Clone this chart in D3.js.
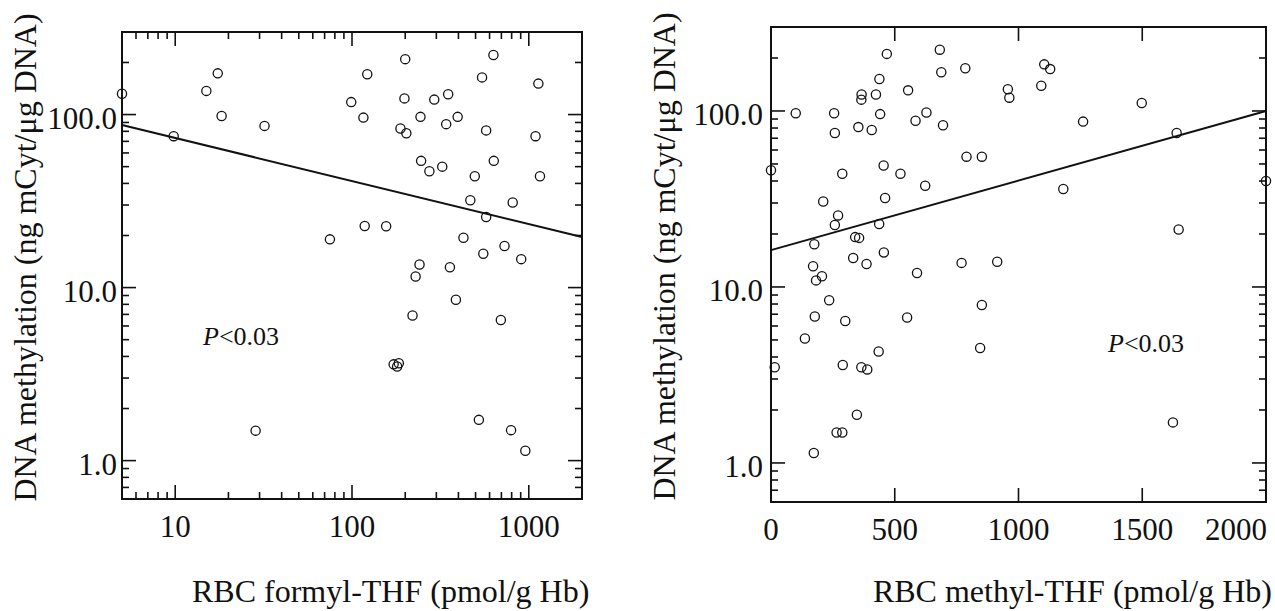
<!DOCTYPE html>
<html>
<head>
<meta charset="utf-8">
<script src="https://cdn.jsdelivr.net/npm/d3@7"></script>
<style>
  body { margin: 0; background: #fff; }
  svg text { font-family: "Liberation Serif", "Times New Roman", serif; fill: #111; }
</style>
</head>
<body>
<div id="chart"></div>
<script>
// left panel: RBC formyl-THF vs DNA methylation (log-log)
const formylX = [5, 9.8, 15, 17.4, 18.3, 32, 99, 122, 116, 200, 198, 188, 203, 244, 246, 274, 292, 350, 324, 341,
  396, 544, 631, 574, 634, 495, 467, 574, 811, 1133, 1092, 1157, 75, 118, 156, 427, 553, 729, 906, 241,
  229, 358, 387, 220, 695, 172, 184, 180, 28.5, 522, 794, 956];
const formylY = [132, 75, 137, 173, 98, 86, 118, 171, 96, 209, 124, 83, 78, 97, 54, 47, 122, 131, 50, 88,
  97, 164, 221, 81, 54, 44, 32, 25.6, 31, 151, 75, 44, 19, 22.7, 22.6, 19.4, 15.7, 17.4, 14.6, 13.6,
  11.6, 13.1, 8.5, 6.9, 6.5, 3.6, 3.65, 3.5, 1.49, 1.72, 1.5, 1.14];
const formylFitX = [5, 2000];
const formylFitY = [87, 19.6];
const formylXTicks = [10, 100, 1000];

// right panel: RBC methyl-THF vs DNA methylation (semi-log)
const methylX = [0, 100, 255, 258, 288, 211, 271, 258, 175, 170, 206, 182, 235, 353, 366, 365, 407, 424, 438, 441,
  468, 455, 461, 437, 340, 356, 332, 386, 456, 523, 554, 584, 628, 623, 590, 682, 688, 695, 785, 790,
  852, 770, 914, 852, 957, 963, 1092, 1104, 1128, 1261, 1181, 1498, 1639, 1647, 2000, 177, 300, 550, 137, 845,
  435, 15, 290, 365, 389, 347, 265, 288, 173, 1624];
const methylY = [46, 97, 97, 75, 44, 30.6, 25.5, 22.5, 17.5, 13.1, 11.5, 10.9, 8.4, 81, 124, 116, 78, 124, 152, 96,
  211, 49, 32, 22.8, 19.2, 19, 14.6, 13.5, 15.7, 44, 131, 88, 98, 37.6, 12, 223, 166, 83, 175, 55,
  55, 13.7, 13.9, 7.9, 133, 119, 139, 184, 173, 87, 36, 111, 75, 21.2, 40, 6.8, 6.4, 6.7, 5.1, 4.5,
  4.3, 3.5, 3.6, 3.5, 3.4, 1.88, 1.49, 1.49, 1.14, 1.7];
const methylFitX = [0, 2000];
const methylFitY = [16.2, 100];
const methylXTicks = [0, 500, 1000, 1500, 2000];

const yTicks = [1, 10, 100];
const yTickLabels = ["1.0", "10.0", "100.0"];
const yDomain = [0.6, 300];

const W = 1275, H = 611;
const svg = d3.select("#chart").append("svg").attr("width", W).attr("height", H);

function logMinor(domain) {
  const out = [];
  for (let e = -1; e <= 4; e++) {
    for (let m = 1; m <= 9; m++) {
      const v = m * Math.pow(10, e);
      if (v >= domain[0] - 1e-9 && v <= domain[1] + 1e-9) out.push(v);
    }
  }
  return out;
}

function drawPanel(p) {
  const g = svg.append("g");
  const x = p.x.range([p.left, p.right]);
  const y = d3.scaleLog().domain(yDomain).range([p.bottom, p.top]);

  const isMajorY = v => yTicks.some(t => Math.abs(t - v) < 1e-9);
  const yAll = logMinor(yDomain);

  // frame
  g.append("rect")
    .attr("x", p.left).attr("y", p.top)
    .attr("width", p.right - p.left).attr("height", p.bottom - p.top)
    .attr("fill", "none").attr("stroke", "#111").attr("stroke-width", 2);

  // y ticks, left and right, pointing inward
  g.selectAll(".ytick").data(yAll).join("g").each(function(v) {
    const len = isMajorY(v) ? 14 : 7;
    const yy = y(v);
    d3.select(this).append("line").attr("x1", p.left).attr("x2", p.left + len).attr("y1", yy).attr("y2", yy);
    d3.select(this).append("line").attr("x1", p.right).attr("x2", p.right - len).attr("y1", yy).attr("y2", yy);
  }).selectAll("line").attr("stroke", "#111").attr("stroke-width", 1.6);

  // x ticks, bottom and top
  const xt = p.xMinor.map(v => ({ v, len: 7 })).concat(p.xTicks.map(v => ({ v, len: 14 })));
  g.selectAll(".xtick").data(xt).join("g").each(function(d) {
    const xx = x(d.v);
    d3.select(this).append("line").attr("x1", xx).attr("x2", xx).attr("y1", p.bottom).attr("y2", p.bottom - d.len);
    d3.select(this).append("line").attr("x1", xx).attr("x2", xx).attr("y1", p.top).attr("y2", p.top + d.len);
  }).selectAll("line").attr("stroke", "#111").attr("stroke-width", 1.6);

  // y tick labels
  g.selectAll(".ylab").data(yTicks).join("text")
    .attr("x", p.left - p.yLabGap).attr("y", v => y(v) + 14)
    .attr("text-anchor", "end").attr("font-size", 31)
    .text((v, i) => yTickLabels[i]);

  // x tick labels
  g.selectAll(".xlab").data(p.xTicks).join("text")
    .attr("x", v => x(v)).attr("y", p.bottom + 38)
    .attr("text-anchor", "middle").attr("font-size", 31)
    .text(v => String(v))
    .each(function() {
      const t = d3.select(this);
      const w = this.getComputedTextLength();
      const cx = +t.attr("x");
      if (cx + w / 2 > W - 8) t.attr("x", W - 8 - w / 2);
    });

  // regression line
  const fit = p.fitX.map((v, i) => [v, p.fitY[i]]);
  g.append("path")
    .datum(fit)
    .attr("fill", "none").attr("stroke", "#111").attr("stroke-width", 2)
    .attr("d", d3.line().x(d => x(d[0])).y(d => y(d[1])));

  // points
  const pts = p.dx.map((v, i) => [v, p.dy[i]]);
  g.selectAll(".pt").data(pts).join("circle")
    .attr("cx", d => x(d[0])).attr("cy", d => y(d[1])).attr("r", 4.6)
    .attr("fill", "none").attr("stroke", "#111").attr("stroke-width", 1.3);

  // P value
  const pt = g.append("text").attr("x", p.pX).attr("y", p.pY).attr("font-size", 26);
  pt.append("tspan").attr("font-style", "italic").text("P");
  pt.append("tspan").text("<0.03");

  // axis titles
  g.append("text")
    .attr("transform", `translate(${p.ylabX},${(p.top + p.bottom) / 2 - 8}) rotate(-90)`)
    .attr("text-anchor", "middle").attr("font-size", 32)
    .text("DNA methylation (ng mCyt/\u03bcg DNA)");
  g.append("text")
    .attr("x", p.xlabX).attr("y", 602)
    .attr("text-anchor", p.xlabAnchor).attr("font-size", 32)
    .text(p.xTitle);
}

drawPanel({
  x: d3.scaleLog().domain([5, 2000]),
  left: 122, right: 582, top: 32, bottom: 499,
  dx: formylX, dy: formylY, fitX: formylFitX, fitY: formylFitY,
  xTicks: formylXTicks,
  xMinor: logMinor([5, 2000]).filter(v => !formylXTicks.includes(v)),
  yLabGap: 5,
  pX: 203, pY: 345,
  ylabX: 36, xlabX: 192, xlabAnchor: "start",
  xTitle: "RBC formyl-THF (pmol/g Hb)"
});

drawPanel({
  x: d3.scaleLinear().domain([0, 2000]),
  left: 771, right: 1266, top: 27, bottom: 502,
  dx: methylX, dy: methylY, fitX: methylFitX, fitY: methylFitY,
  xTicks: methylXTicks,
  xMinor: [],
  yLabGap: 8,
  pX: 1108, pY: 352,
  ylabX: 675, xlabX: 1272, xlabAnchor: "end",
  xTitle: "RBC methyl-THF (pmol/g Hb)"
});
</script>
</body>
</html>
